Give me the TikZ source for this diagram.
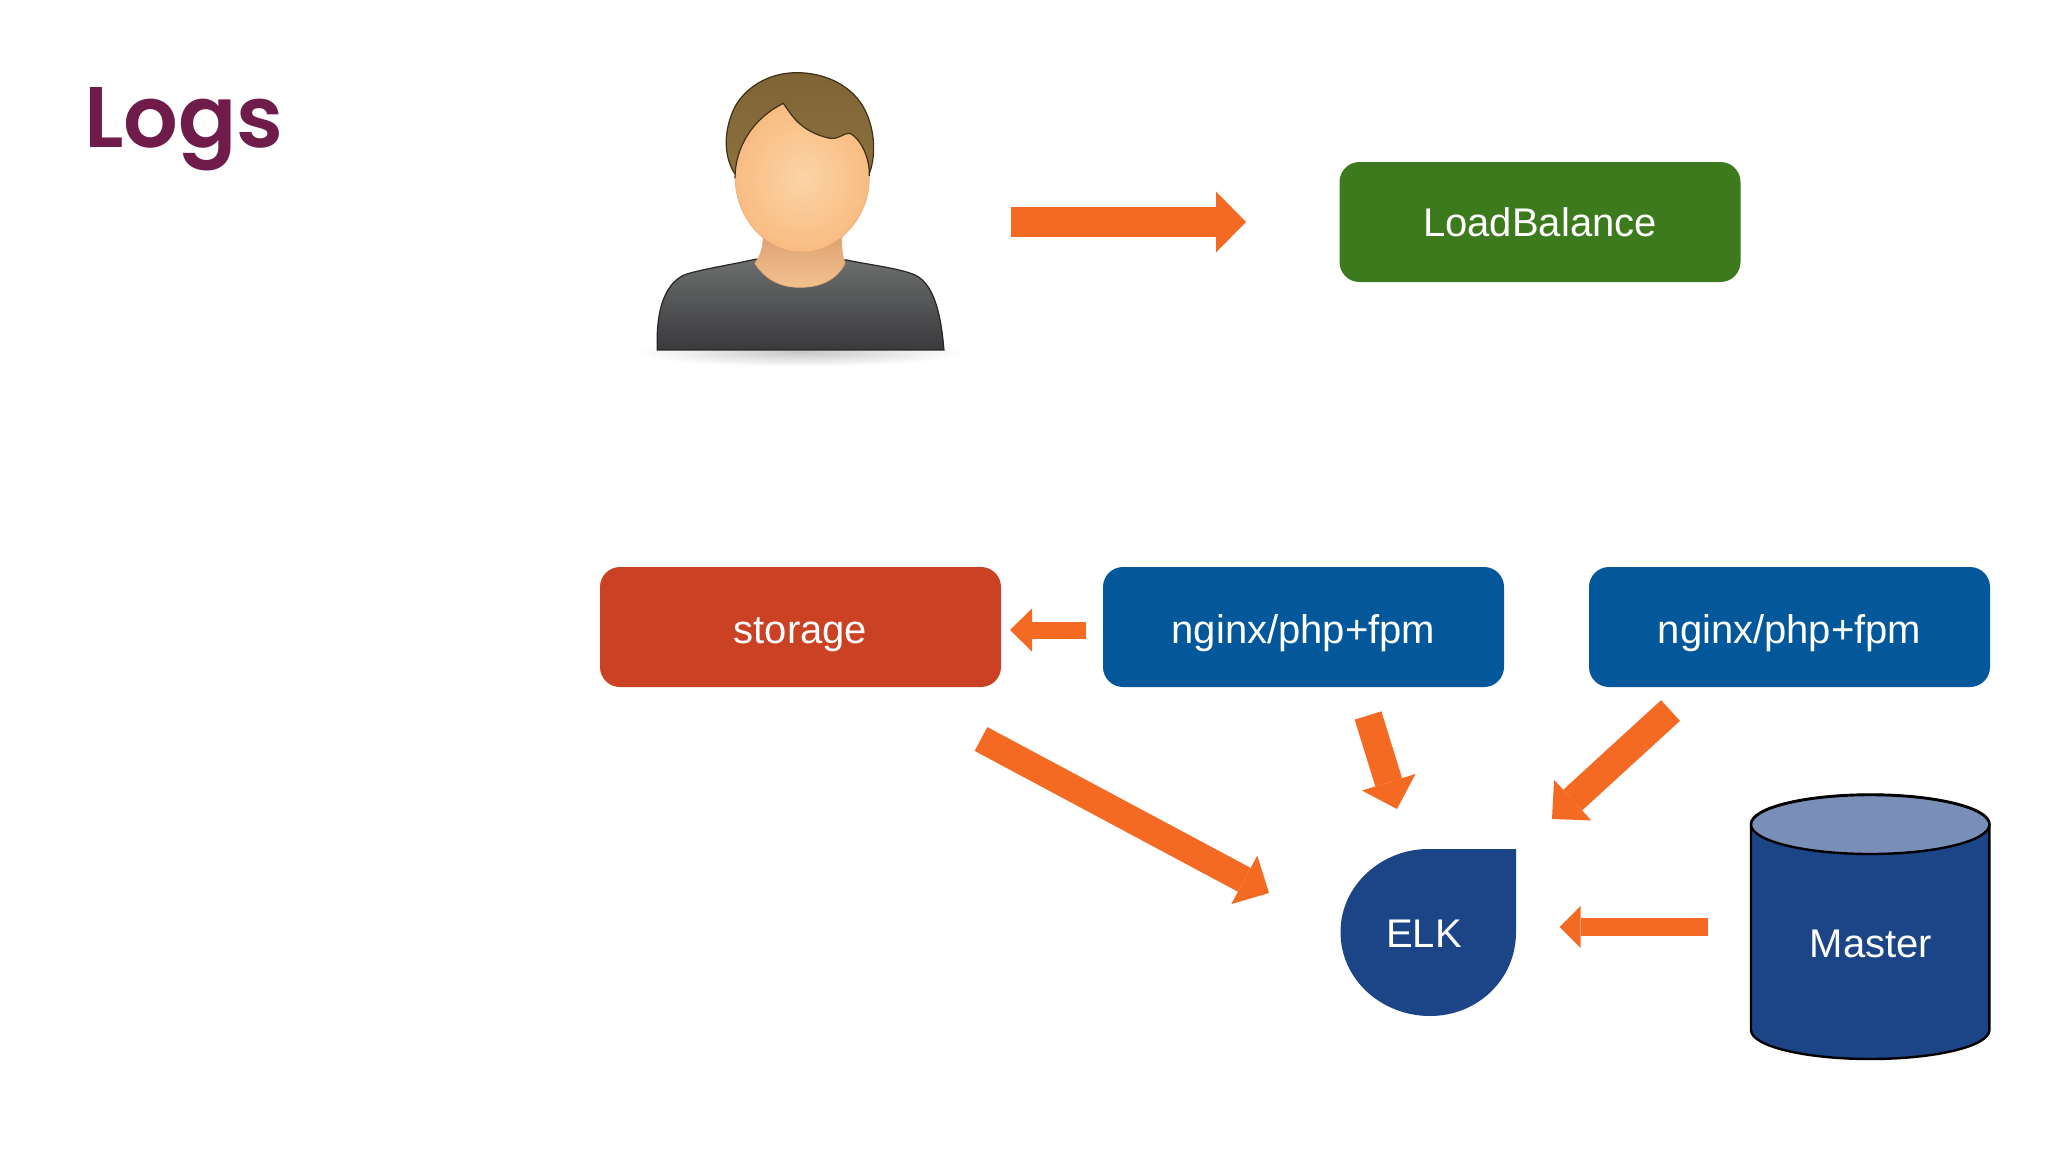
\documentclass[tikz,border=0pt]{standalone}
\usepackage{fontspec}
\setmainfont{Liberation Sans}
\newfontfamily\titlefont{Poppins SemiBold}
\usetikzlibrary{arrows.meta}
\definecolor{orangeA}{HTML}{F56A23}
\definecolor{greenA}{HTML}{3D7A1E}
\definecolor{redA}{HTML}{CB4124}
\definecolor{blueA}{HTML}{03589B}
\definecolor{navyA}{HTML}{1B4586}
\definecolor{topA}{HTML}{7A8FB8}
\definecolor{titleA}{HTML}{701C4B}
\definecolor{hairT}{HTML}{7F6437}
\definecolor{hairB}{HTML}{8E703E}
\definecolor{hairL}{HTML}{3F2F15}
\definecolor{faceI}{HTML}{FBD4A6}
\definecolor{faceO}{HTML}{F9BC82}
\definecolor{faceL}{HTML}{E8A877}
\definecolor{neckT}{HTML}{DFA273}
\definecolor{neckB}{HTML}{F3C28E}
\definecolor{shirtT}{HTML}{6C6E6E}
\definecolor{shirtB}{HTML}{3A3A3C}
\tikzset{
  box/.style={rounded corners=20pt,minimum width=401pt,minimum height=120pt,inner sep=0pt,
    text=white,font=\fontsize{40}{48}\selectfont,text height=28.6pt,text depth=0pt},
  lowbox/.style={box,text height=32pt},
  label/.style={inner sep=0pt,text=white,font=\fontsize{40}{48}\selectfont,text height=28.6pt,text depth=0pt},
  flow/.style n args={3}{draw=orangeA,line width=#1pt,
    -{Triangle[length=#2pt,width=#3pt,line width=0pt,sep=0pt,fill=orangeA]}},
}
\begin{document}
\begin{tikzpicture}[x=1pt,y=-1pt]
\useasboundingbox (0,0) rectangle (2048,1152);
\fill[white] (0,0) rectangle (2048,1152);

% title
\node[anchor=base west,inner sep=0pt,text=titleA,font=\titlefont\fontsize{86}{100}\selectfont] (title) at (84,147) {Logs};

% person
\begin{scope}[shift={(620,50)},x=0.3333pt,y=-0.3333pt]
  \shade[inner color=black!22,outer color=white,draw=none] (540,906) ellipse [x radius=490,y radius=44];
  \path[draw=black!85,line width=1.2pt,top color=shirtT,bottom color=shirtB]
    (112,900) .. controls (108,800) and (125,710) .. (190,676)
    .. controls (230,660) and (330,645) .. (405,628)
    -- (680,630)
    .. controls (750,645) and (840,655) .. (885,675)
    .. controls (950,705) and (965,820) .. (972,900) -- cycle;
  \path[top color=neckT,bottom color=neckB,draw=faceL,line width=0.8pt]
    (430,560) .. controls (428,600) and (420,620) .. (405,640)
    .. controls (440,695) and (490,712) .. (540,712)
    .. controls (600,712) and (650,690) .. (675,640)
    .. controls (668,620) and (664,600) .. (665,560) -- cycle;
  \path[draw=hairL,line width=1.2pt,top color=hairT,bottom color=hairB]
    (345,372) .. controls (310,320) and (310,240) .. (345,170)
    .. controls (385,100) and (460,68) .. (530,68)
    .. controls (620,68) and (700,110) .. (735,180)
    .. controls (765,240) and (770,320) .. (745,378) -- cycle;
  \path[inner color=faceI,outer color=faceO,draw=faceL,line width=0.5pt]
    (490,160)
    .. controls (515,195) and (540,245) .. (630,265)
    .. controls (660,268) and (670,248) .. (690,250)
    .. controls (720,265) and (750,320) .. (748,390)
    .. controls (745,510) and (650,606) .. (545,606)
    .. controls (440,606) and (348,510) .. (345,385)
    .. controls (345,290) and (400,205) .. (490,160) -- cycle;
  \draw[hairL,line width=1.2pt]
    (345,385) .. controls (345,290) and (400,205) .. (490,160)
    .. controls (515,195) and (540,245) .. (630,265)
    .. controls (660,268) and (670,248) .. (690,250)
    .. controls (720,265) and (750,320) .. (748,378);
\end{scope}

% boxes
\node[box,fill=greenA] (lb) at (1540,222) {LoadBalance};
\node[lowbox,fill=redA] (storage) at (800.5,627) {storage};
\node[lowbox,fill=blueA] (ngA) at (1303.5,627) {nginx/php+fpm};
\node[lowbox,fill=blueA] (ngB) at (1789.5,627) {nginx/php+fpm};

% ELK
\fill[navyA] (1516,849) -- (1516,932)
  .. controls (1516,980) and (1477,1016) .. (1430,1016)
  .. controls (1382,1016) and (1340.5,980) .. (1340.5,932)
  .. controls (1340.5,885) and (1382,849) .. (1428,849) -- cycle;
\node[label] (elk) at (1424,933) {ELK};

% Master
\path[draw=black,line width=2.4pt,fill=navyA]
  (1751,824) -- (1751,1030) arc[start angle=180,end angle=0,x radius=119.2,y radius=29]
  -- (1989.4,824) arc[start angle=0,end angle=-180,x radius=119.2,y radius=29.5] -- cycle;
\path[draw=black,line width=2.4pt,fill=topA] (1870.2,824.5) ellipse [x radius=119.2,y radius=29.5];
\node[label] (master) at (1871,943) {Master};

% connector ends
\coordinate (a1) at (1011,222);  \coordinate (b1) at (1246,222);
\coordinate (a2) at (1086,630);  \coordinate (b2) at (1010,630);
\coordinate (a3) at (981,739);   \coordinate (b3) at (1269,893);
\coordinate (a4) at (1368,715.5);\coordinate (b4) at (1397,809);
\coordinate (a5) at (1670.5,710.5);\coordinate (b5) at (1552,819);
\coordinate (a6) at (1708,927);  \coordinate (b6) at (1559.5,927);

\draw[flow={30}{30}{61}] (a1) -- (b1);
\draw[flow={17}{22}{43}] (a2) -- (b2);
\draw[flow={27}{28}{55}] (a3) -- (b3);
\draw[flow={28}{28}{56}] (a4) -- (b4);
\draw[flow={28}{28}{55}] (a5) -- (b5);
\draw[flow={18}{21}{42}] (a6) -- (b6);
\end{tikzpicture}
\end{document}
